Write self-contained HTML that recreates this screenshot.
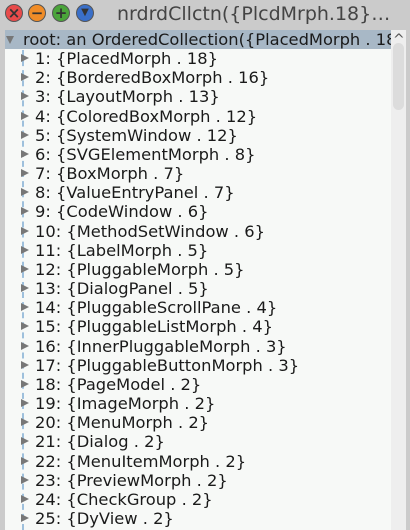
<!DOCTYPE html>
<html><head><style>
body{margin:0;width:410px;height:530px;background:#cbcbcb;overflow:hidden;position:relative;font-family:"DejaVu Sans","Liberation Sans",sans-serif;}
.t{position:absolute;left:0;top:0;width:410px;height:30px;background:#cbcbcb}
.c{position:absolute;top:4px;width:18px;height:18px;border-radius:50%;border:1px solid #555;box-sizing:border-box;font-size:15px;line-height:16px;text-align:center;font-weight:bold;color:#333}
.title{position:absolute;left:117px;top:3px;font-size:19px;color:#444;white-space:nowrap}
.list{position:absolute;left:5px;top:30px;width:386px;height:500px;background:#f7f9f7;overflow:hidden}
.sb{position:absolute;left:391px;top:30px;width:15px;height:500px;background:#eeeeee}
.th{position:absolute;left:393px;top:43px;width:11px;height:67px;border-radius:6px;background:#dcdcdc}
.r{position:absolute;height:19px;font-size:16.3px;line-height:19px;white-space:nowrap;color:#1a1a1a}
.dash{position:absolute;left:17px;top:20px;width:0;height:480px;border-left:2px dashed #9ec0dc}
</style></head><body>
<div class="t">
<div class="c" style="left:5px;background:#e84b4b">×</div>
<div class="c" style="left:28px;background:#f08c28">−</div>
<div class="c" style="left:52px;background:#4aa43a">+</div>
<div class="c" style="left:76px;background:#3a6fc8;font-size:10px">▼</div>
<div class="title">nrdrdCllctn({PlcdMrph.18}…</div>
</div>
<div class="list">
<div style="position:absolute;left:0;top:0;width:386px;height:19px;background:#a8b8c6"></div>
<div class="dash"></div>
<div style="position:absolute;left:1px;top:6px;border-left:4px solid transparent;border-right:4px solid transparent;border-top:8px solid #777"></div>
<div class="r" style="left:18px;top:0">root: an OrderedCollection({PlacedMorph . 18}</div>
<div id="rows"></div>
</div>
<div class="sb"><div style="position:absolute;left:2px;top:2px;font-size:14px;color:#555">^</div></div>
<div class="th"></div>
<script>
var n=["PlacedMorph . 18","BorderedBoxMorph . 16","LayoutMorph . 13","ColoredBoxMorph . 12","SystemWindow . 12","SVGElementMorph . 8","BoxMorph . 7","ValueEntryPanel . 7","CodeWindow . 6","MethodSetWindow . 6","LabelMorph . 5","PluggableMorph . 5","DialogPanel . 5","PluggableScrollPane . 4","PluggableListMorph . 4","InnerPluggableMorph . 3","PluggableButtonMorph . 3","PageModel . 2","ImageMorph . 2","MenuMorph . 2","Dialog . 2","MenuItemMorph . 2","PreviewMorph . 2","CheckGroup . 2","DyView . 2","SystemWindow . 2"];
var h="";for(var i=0;i<n.length;i++){var y=19+i*19.17;
h+='<div style="position:absolute;left:16px;top:'+(y+5)+'px;border-top:4.5px solid transparent;border-bottom:4.5px solid transparent;border-left:8px solid #777"></div>';
h+='<div class="r" style="left:30px;top:'+y+'px">'+(i+1)+': {'+n[i]+'}</div>';}
document.getElementById("rows").innerHTML=h;
</script>
</body></html>
